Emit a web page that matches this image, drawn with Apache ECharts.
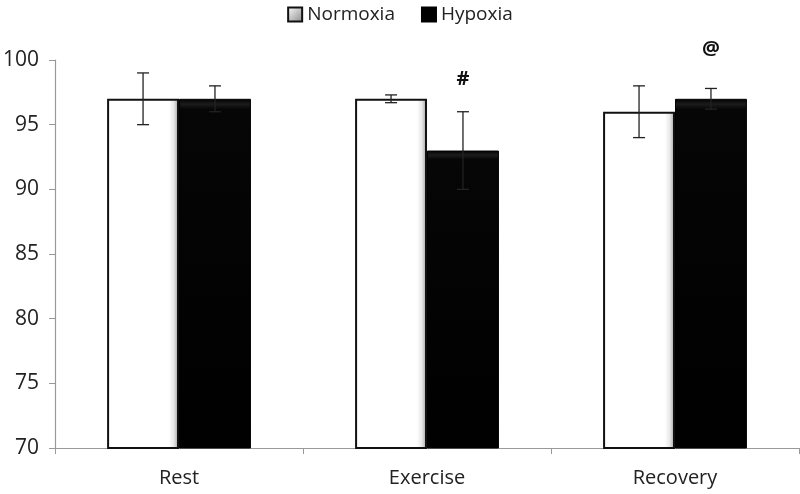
<!DOCTYPE html>
<html><head><meta charset="utf-8">
<script src="https://cdn.jsdelivr.net/npm/echarts@6/dist/echarts.min.js"></script>
<style>html,body{margin:0;padding:0;background:#fff}#c{width:800px;height:494px}</style>
</head><body><div id="c"></div>
<script>
const categories = ['Rest', 'Exercise', 'Recovery'];
const normoxia = [97, 97, 96];
const normoxiaErr = [2, 0.3, 2];
const hypoxia = [97, 93, 97];
const hypoxiaErr = [1, 3, 0.8];
const marks = ['', '#', '@'];
const markValues = [null, 98.5, 100.8];
const yTicks = {min: 70, max: 100, interval: 5};

const FONT = '"Open Sans",sans-serif';
const BAR_FRAC = 0.29;

function errSeries(vals, errs, side) {
  return {
    type: 'custom', z: 5,
    data: vals.map((v, i) => [i, v, errs[i]]),
    renderItem: function (params, api) {
      const i = api.value(0), v = api.value(1), e = api.value(2);
      const band = api.size([1, 0])[0];
      const off = side * band * BAR_FRAC / 2;
      const top = api.coord([i, v + e]);
      const bot = api.coord([i, v - e]);
      const x = top[0] + off, hw = 6;
      const st = {stroke: '#222', lineWidth: 1.3};
      return {type: 'group', children: [
        {type: 'line', shape: {x1: x, y1: top[1], x2: x, y2: bot[1]}, style: st},
        {type: 'line', shape: {x1: x - hw, y1: top[1], x2: x + hw, y2: top[1]}, style: st},
        {type: 'line', shape: {x1: x - hw, y1: bot[1], x2: x + hw, y2: bot[1]}, style: st}
      ]};
    }
  };
}

const chart = echarts.init(document.getElementById('c'));
chart.setOption({
  animation: false,
  legend: {
    top: 0, left: 'center', itemWidth: 14, itemHeight: 14, itemGap: 26, icon: 'rect',
    textStyle: {fontFamily: FONT, fontSize: 19, color: '#222'},
    data: [
      {name: 'Normoxia', itemStyle: {color: {type: 'linear', x: 0, y: 0, x2: 1, y2: 1, colorStops: [{offset: 0, color: '#fff'}, {offset: 1, color: '#888'}]}, borderColor: '#111', borderWidth: 2}},
      {name: 'Hypoxia', itemStyle: {color: '#000'}}
    ]
  },
  grid: {left: 55, right: 1, top: 60, bottom: 46},
  xAxis: {
    type: 'category', data: categories,
    axisLine: {lineStyle: {color: '#999', width: 1.2}},
    axisTick: {show: true, length: 6, lineStyle: {color: '#999'}},
    axisLabel: {fontFamily: FONT, fontSize: 20, color: '#222', margin: 20}
  },
  yAxis: {
    type: 'value', min: yTicks.min, max: yTicks.max, interval: yTicks.interval,
    axisLine: {show: true, lineStyle: {color: '#999', width: 1.2}},
    axisTick: {show: true, length: 6, lineStyle: {color: '#999'}},
    splitLine: {show: false},
    axisLabel: {fontFamily: FONT, fontSize: 21, color: '#222', margin: 16}
  },
  series: [
    {
      name: 'Normoxia', type: 'bar', data: normoxia, barGap: '0%', barCategoryGap: '42%',
      itemStyle: {
        color: {type: 'linear', x: 0, y: 0, x2: 1, y2: 0, colorStops: [
          {offset: 0, color: '#fff'}, {offset: 0.86, color: '#fff'}, {offset: 0.93, color: '#e6e6e6'}, {offset: 1, color: '#999'}]},
        borderColor: '#111', borderWidth: 2
      }
    },
    {
      name: 'Hypoxia', type: 'bar', data: hypoxia,
      itemStyle: {
        color: {type: 'linear', x: 0, y: 0, x2: 0, y2: 1, colorStops: [
          {offset: 0, color: '#000'}, {offset: 0.015, color: '#1c1c1c'}, {offset: 0.03, color: '#060606'}, {offset: 1, color: '#000'}]},
        borderColor: '#000', borderWidth: 1
      }
    },
    errSeries(normoxia, normoxiaErr, -1),
    errSeries(hypoxia, hypoxiaErr, 1),
    {
      type: 'custom', z: 6,
      data: markValues.map((v, i) => [i, v, marks[i]]).filter(d => d[1] != null),
      renderItem: function (params, api) {
        const d = markValues.map((v, i) => [i, v, marks[i]]).filter(d => d[1] != null)[params.dataIndex];
        const band = api.size([1, 0])[0];
        const p = api.coord([d[0], d[1]]);
        return {type: 'text', x: p[0] + band * BAR_FRAC / 2, y: p[1],
          style: {text: d[2], fontFamily: FONT, fontSize: 20, fontWeight: 'bold', fill: '#111', align: 'center', verticalAlign: 'middle'}};
      }
    }
  ]
});
</script></body></html>
